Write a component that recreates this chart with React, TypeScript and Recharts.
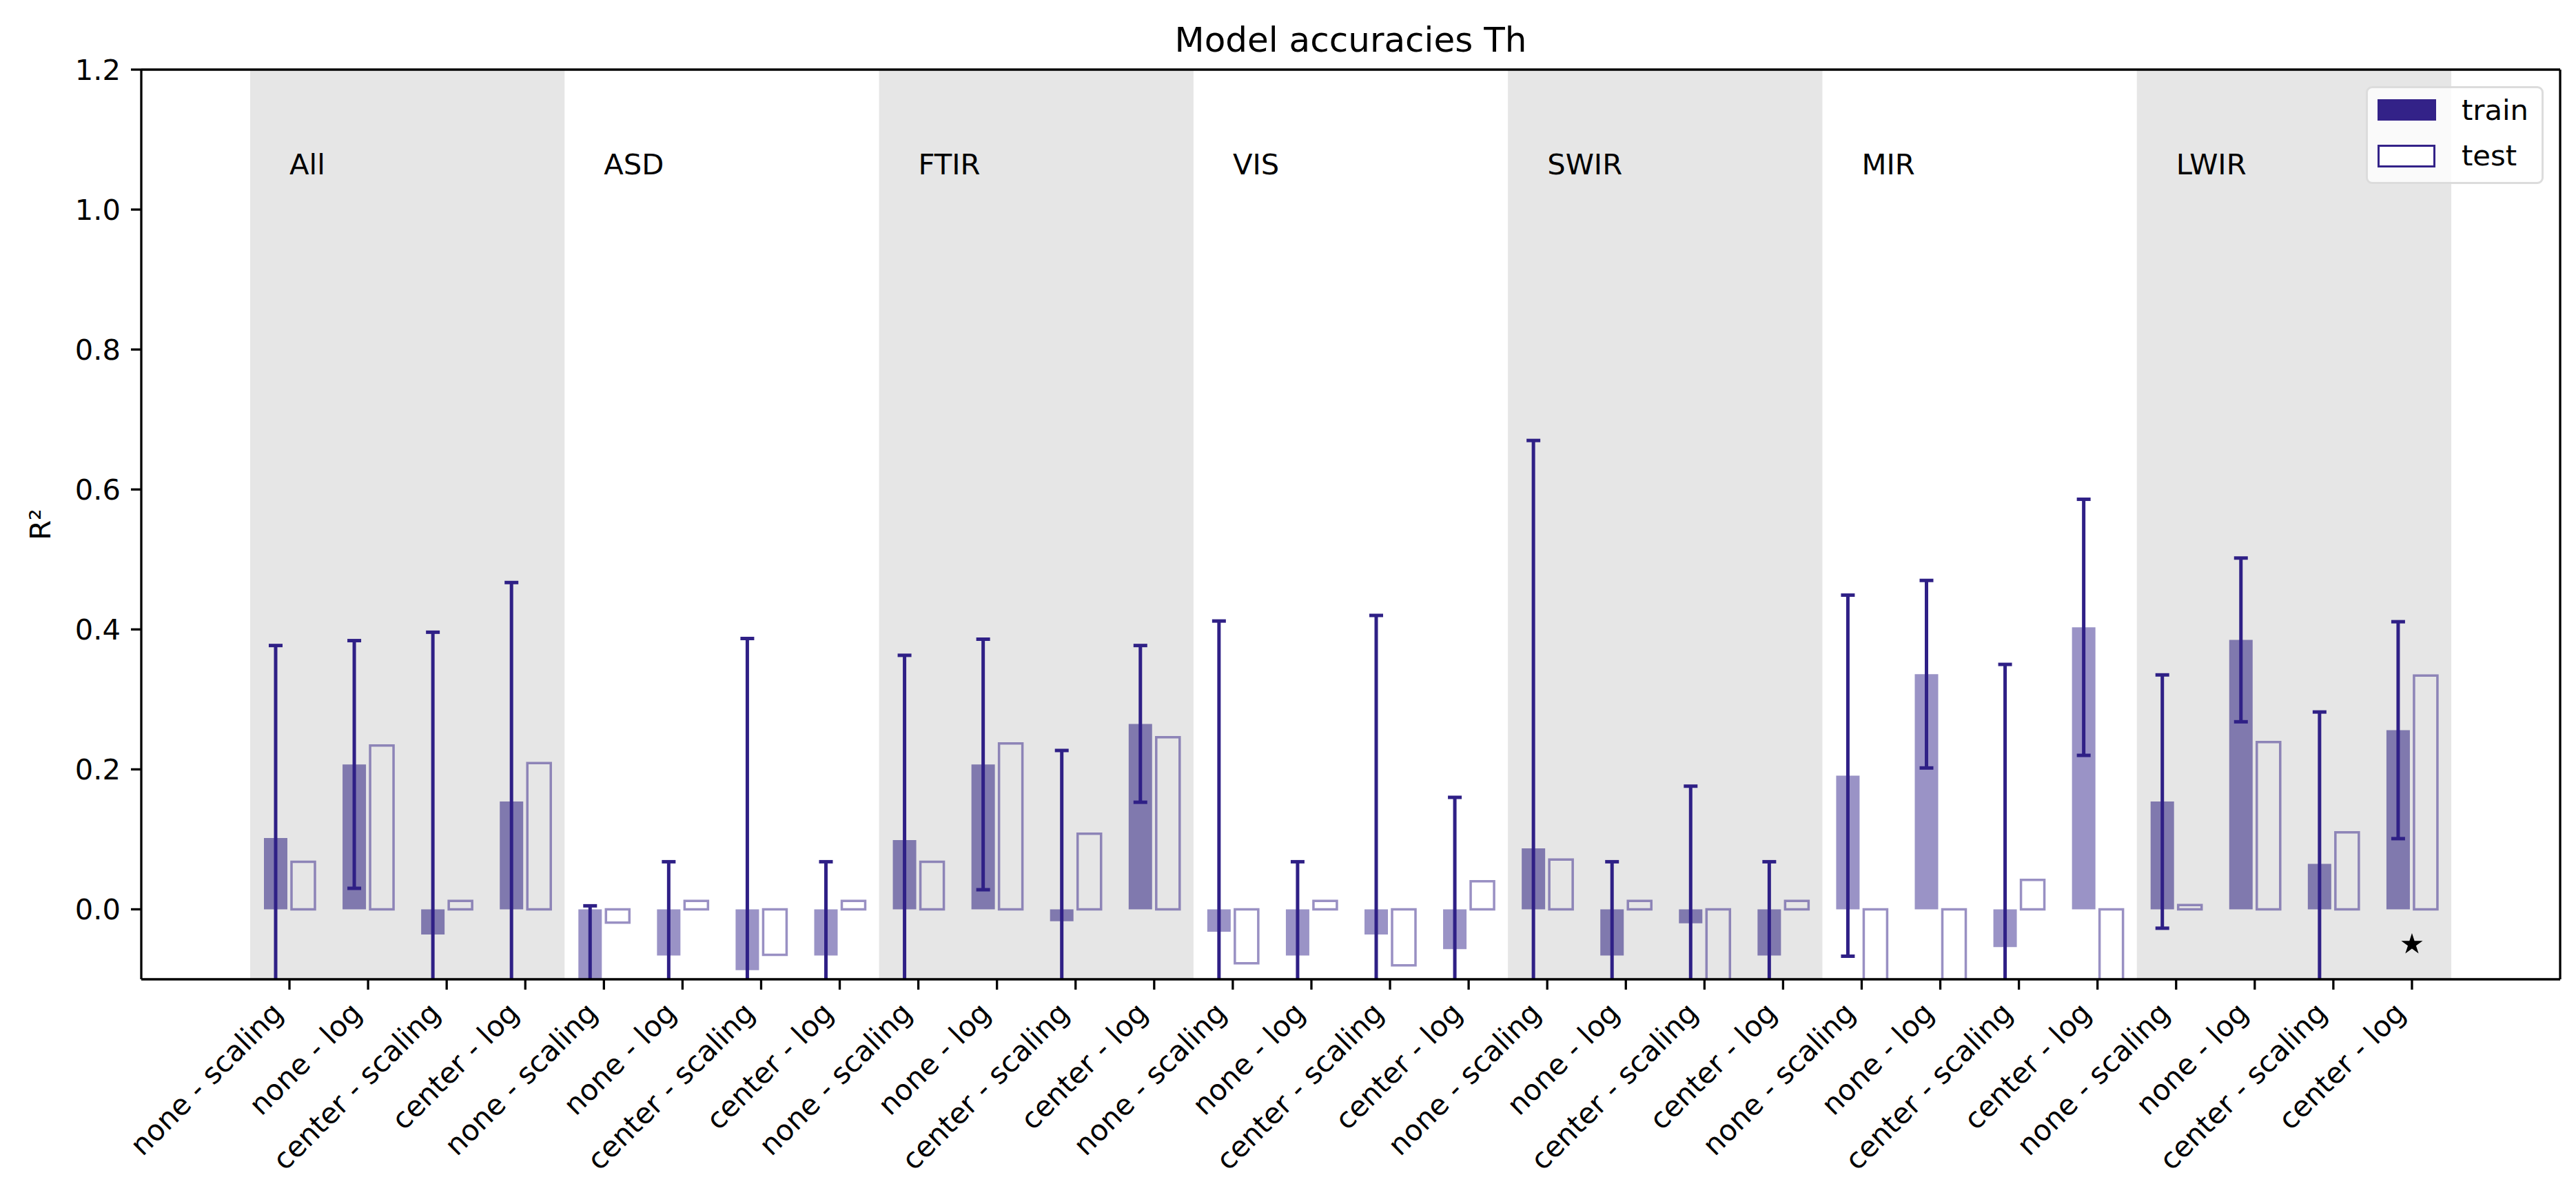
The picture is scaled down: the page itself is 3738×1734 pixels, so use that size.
import {
  Bar,
  Cell,
  ComposedChart,
  ErrorBar,
  ReferenceArea,
  ReferenceDot,
  Symbols,
  XAxis,
  YAxis,
} from 'recharts'

const W = 3738
const H = 1734
const FONT = "'DejaVu Sans', sans-serif"
const FS = 41.7

// plot box (matplotlib axes) in page pixels, used for margins and the whisker clip
const PLOT = { left: 205, top: 101, right: 3715, bottom: 1421 }

const groups = ['All', 'ASD', 'FTIR', 'VIS', 'SWIR', 'MIR', 'LWIR']
const shadedGroups = ['All', 'FTIR', 'SWIR', 'LWIR']
const methods = ['none - scaling', 'none - log', 'center - scaling', 'center - log']

// R² values, four per group in the order of `methods`
const trainR2 = [
  0.102, 0.207, -0.036, 0.154,
  -0.25, -0.066, -0.087, -0.066,
  0.099, 0.207, -0.017, 0.265,
  -0.032, -0.066, -0.036, -0.057,
  0.087, -0.066, -0.02, -0.066,
  0.191, 0.336, -0.054, 0.403,
  0.154, 0.385, 0.065, 0.256,
]
const trainStd = [
  0.275, 0.177, 0.432, 0.313,
  0.255, 0.134, 0.474, 0.134,
  0.264, 0.179, 0.244, 0.112,
  0.444, 0.134, 0.456, 0.217,
  0.583, 0.134, 0.196, 0.134,
  0.258, 0.134, 0.404, 0.183,
  0.181, 0.117, 0.217, 0.155,
]
const testR2 = [
  0.068, 0.234, 0.012, 0.209,
  -0.019, 0.012, -0.065, 0.012,
  0.068, 0.237, 0.108, 0.246,
  -0.077, 0.012, -0.08, 0.04,
  0.071, 0.012, -0.3, 0.012,
  -0.3, -0.3, 0.042, -0.3,
  0.006, 0.239, 0.11, 0.334,
]

const yTicks = [0, 0.2, 0.4, 0.6, 0.8, 1.0, 1.2]
const groupLabelY = 1.05
const bestModel = ['LWIR', 'center - log']
const bestMarkerY = -0.05

const rows = groups.flatMap((g, gi) =>
  methods.map((m, mi) => ({
    key: `${g}|${m}`,
    group: g,
    method: m,
    train: trainR2[gi * 4 + mi],
    trainErr: trainStd[gi * 4 + mi],
    test: testR2[gi * 4 + mi],
  })),
)

const CategoryTick = (props: any) => {
  const { x, y, payload } = props
  const label = String(payload.value).split('|')[1]
  return (
    <g transform={`translate(${x},${y})`}>
      <text
        x={-7}
        y={36.6}
        transform="rotate(-45 -7 36.6)"
        textAnchor="end"
        fontSize={FS}
        fontFamily={FONT}
        fill="#000"
      >
        {label}
      </text>
    </g>
  )
}

const renderTitle = (props: any) => {
  const vb = props.viewBox
  return (
    <text
      x={vb.x + vb.width / 2}
      y={vb.y + vb.height - 26}
      textAnchor="middle"
      fontSize={50}
      fontFamily={FONT}
      fill="#000"
    >
      Model accuracies Th
    </text>
  )
}

const renderYLabel = (props: any) => {
  const vb = props.viewBox
  const cy = vb.y + vb.height / 2
  return (
    <text
      x={73}
      y={cy}
      transform={`rotate(-90 73 ${cy})`}
      textAnchor="middle"
      fontSize={FS}
      fontFamily={FONT}
      fill="#000"
    >
      R²
    </text>
  )
}

const groupLabel = (name: string) => (props: any) => {
  const vb = props.viewBox
  return (
    <text x={vb.x} y={vb.y} fontSize={FS} fontFamily={FONT} fill="#000">
      {name}
    </text>
  )
}

const StarShape = (props: any) => (
  <Symbols cx={props.cx} cy={props.cy} type="star" size={300} fill="#000" stroke="none" />
)

const axisStroke = { stroke: '#000', strokeWidth: 3.3 }

export default function App() {
  return (
    <div
      style={{
        position: 'absolute',
        left: 0,
        top: 0,
        width: W,
        height: H,
        background: '#fff',
        fontFamily: FONT,
      }}
    >
      {/* clip for the whiskers, which recharts does not clip to the plot area */}
      <svg width={0} height={0} style={{ position: 'absolute' }}>
        <defs>
          <clipPath id="plot-clip" clipPathUnits="userSpaceOnUse">
            <rect
              x={PLOT.left}
              y={PLOT.top}
              width={PLOT.right - PLOT.left}
              height={PLOT.bottom - PLOT.top}
            />
          </clipPath>
        </defs>
      </svg>
      <ComposedChart
        width={W}
        height={H}
        data={rows}
        margin={{ top: PLOT.top - 1, right: W - PLOT.right - 1, bottom: 0, left: 0 }}
        barGap={6}
      >
        {shadedGroups.map((g) => (
          <ReferenceArea
            key={`shade-${g}`}
            x1={`${g}|${methods[0]}`}
            x2={`${g}|${methods[3]}`}
            fill="#e6e6e6"
            fillOpacity={1}
            stroke="none"
          />
        ))}
        <XAxis
          dataKey="key"
          type="category"
          height={H - PLOT.bottom}
          padding={{ left: 158, right: 158 }}
          interval={0}
          tick={<CategoryTick />}
          tickSize={15}
          tickMargin={0}
          tickLine={axisStroke}
          axisLine={axisStroke}
        />
        <XAxis
          xAxisId="top"
          orientation="top"
          dataKey="key"
          type="category"
          height={1}
          padding={{ left: 158, right: 158 }}
          tick={false}
          tickLine={false}
          axisLine={axisStroke}
          label={{ content: renderTitle }}
        />
        <YAxis
          type="number"
          domain={[-0.1, 1.2]}
          allowDataOverflow
          ticks={yTicks}
          tickFormatter={(v: number) => v.toFixed(1)}
          width={PLOT.left}
          tickSize={15}
          tickMargin={15}
          tick={{ fill: '#000', fontSize: FS, fontFamily: FONT }}
          tickLine={axisStroke}
          axisLine={axisStroke}
          label={{ content: renderYLabel }}
        />
        <YAxis
          yAxisId="right"
          orientation="right"
          type="number"
          domain={[0, 1]}
          width={1}
          tick={false}
          tickLine={false}
          axisLine={axisStroke}
        />
        <Bar dataKey="train" name="train" barSize={34} isAnimationActive={false}>
          {rows.map((r) => (
            <Cell
              key={`c-${r.key}`}
              fill={shadedGroups.includes(r.group) ? '#8079ae' : '#9a93c6'}
            />
          ))}
          <ErrorBar
            dataKey="trainErr"
            width={10}
            strokeWidth={5}
            stroke="#2f2086"
            clipPath="url(#plot-clip)"
            isAnimationActive={false}
          />
        </Bar>
        <Bar
          dataKey="test"
          name="test"
          barSize={34}
          fill="none"
          stroke="#332288"
          strokeOpacity={0.5}
          strokeWidth={3.5}
          isAnimationActive={false}
        />
        {groups.map((g) => (
          <ReferenceDot
            key={`lab-${g}`}
            x={`${g}|${methods[0]}`}
            y={groupLabelY}
            r={0}
            fill="none"
            stroke="none"
            label={{ content: groupLabel(g) }}
          />
        ))}
        <ReferenceDot
          x={`${bestModel[0]}|${bestModel[1]}`}
          y={bestMarkerY}
          r={0}
          shape={StarShape}
        />
      </ComposedChart>

      {/* legend, matplotlib style box in the upper right */}
      <div
        style={{
          position: 'absolute',
          left: 3433,
          top: 125,
          width: 252,
          height: 136,
          background: 'rgba(255,255,255,0.8)',
          border: '3px solid #dcdcdc',
          borderRadius: 9,
        }}
      />
      <div
        style={{
          position: 'absolute',
          left: 3450,
          top: 144,
          width: 85,
          height: 31,
          background: '#332288',
        }}
      />
      <div
        style={{
          position: 'absolute',
          left: 3450,
          top: 210,
          width: 78,
          height: 27,
          background: '#fff',
          border: '3.5px solid #332288',
        }}
      />
      <div style={{ position: 'absolute', left: 3572, top: 139, fontSize: FS, lineHeight: 1 }}>
        train
      </div>
      <div style={{ position: 'absolute', left: 3572, top: 205, fontSize: FS, lineHeight: 1 }}>
        test
      </div>
    </div>
  )
}
